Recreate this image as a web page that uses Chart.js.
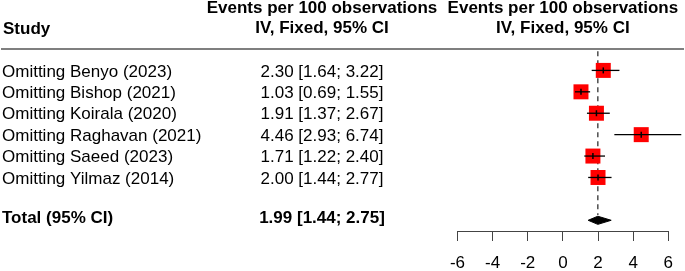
<!DOCTYPE html>
<html>
<head>
<meta charset="utf-8">
<script src="https://cdn.jsdelivr.net/npm/chart.js@4/dist/chart.umd.min.js"></script>
<style>
  html, body { margin: 0; padding: 0; background: #fff; }
  #wrap { width: 685px; height: 271px; }
</style>
</head>
<body>
<div id="wrap"><canvas id="forest" width="685" height="271"></canvas></div>
<script>
const studies = [
  'Omitting Benyo (2023)',
  'Omitting Bishop (2021)',
  'Omitting Koirala (2020)',
  'Omitting Raghavan (2021)',
  'Omitting Saeed (2023)',
  'Omitting Yilmaz (2014)',
];
const estimates = [2.30, 1.03, 1.91, 4.46, 1.71, 2.00];
const lowerCI   = [1.64, 0.69, 1.37, 2.93, 1.22, 1.44];
const upperCI   = [3.22, 1.55, 2.67, 6.74, 2.40, 2.77];

const totalLabel = 'Total (95% CI)';
const totalEst   = 1.99;
const totalLower = 1.44;
const totalUpper = 2.75;

const xTicks = [-6, -4, -2, 0, 2, 4, 6];

const headerLeft  = ['Events per 100 observations', 'IV, Fixed, 95% CI'];
const headerRight = ['Events per 100 observations', 'IV, Fixed, 95% CI'];

const FONT = '"Liberation Sans", Arial, Helvetica, sans-serif';
const TOTAL_ROW = studies.length + 2;

function fmt(est, lo, hi) {
  return `${est.toFixed(2)} [${lo.toFixed(2)}; ${hi.toFixed(2)}]`;
}

// one short line per study for the CI
const ciSets = studies.map((s, i) => ({
  label: 'ci ' + s,
  data: [{ x: lowerCI[i], y: i + 1 }, { x: upperCI[i], y: i + 1 }],
  showLine: true,
  borderColor: '#000',
  borderWidth: 1.3,
  pointRadius: 0,
  clip: false,
  order: 2,
}));

const textColumns = {
  id: 'textColumns',
  afterDraw(chart) {
    const { ctx } = chart;
    const y = chart.scales.y;
    const x = chart.scales.x;
    ctx.save();

    // header
    ctx.fillStyle = '#000';
    ctx.textBaseline = 'middle';
    ctx.font = `bold 17px ${FONT}`;
    ctx.textAlign = 'left';
    ctx.fillText('Study', 3, 29);
    ctx.textAlign = 'center';
    ctx.fillText(headerLeft[0], 322, 8);
    ctx.fillText(headerLeft[1], 322, 28.5);
    ctx.fillText(headerRight[0], x.getPixelForValue(0), 8);
    ctx.fillText(headerRight[1], x.getPixelForValue(0), 28.5);

    // rule under header
    ctx.strokeStyle = '#7f7f7f';
    ctx.lineWidth = 2;
    ctx.beginPath();
    ctx.moveTo(1, 49);
    ctx.lineTo(684, 49);
    ctx.stroke();

    // study rows
    ctx.font = `17px ${FONT}`;
    studies.forEach((s, i) => {
      const py = y.getPixelForValue(i + 1) + 1.5;
      ctx.textAlign = 'left';
      ctx.fillText(s, 2, py);
      ctx.textAlign = 'center';
      ctx.fillText(fmt(estimates[i], lowerCI[i], upperCI[i]), 322, py);
    });

    // total row
    ctx.font = `bold 17px ${FONT}`;
    const ty = y.getPixelForValue(TOTAL_ROW) - 1.5;
    ctx.textAlign = 'left';
    ctx.fillText(totalLabel, 2, ty);
    ctx.textAlign = 'center';
    ctx.fillText(fmt(totalEst, totalLower, totalUpper), 322, ty);

    ctx.restore();
  },
};

new Chart(document.getElementById('forest'), {
  type: 'scatter',
  data: {
    datasets: [
      {
        label: 'squares',
        data: estimates.map((v, i) => ({ x: v, y: i + 1 })),
        pointStyle: 'rect',
        pointRadius: 10.6,
        backgroundColor: '#ff0000',
        borderWidth: 0,
        clip: false,
        order: 3,
      },
      ...ciSets,
      {
        label: 'est ticks',
        data: estimates.map((v, i) => ({ x: v, y: i + 1 })),
        pointStyle: 'line',
        rotation: 90,
        pointRadius: 3,
        borderColor: '#000',
        borderWidth: 1.5,
        clip: false,
        order: 1,
      },
      {
        label: 'pooled line',
        data: [{ x: totalEst, y: 0.1 }, { x: totalEst, y: 7.75 }],
        showLine: true,
        borderColor: '#333',
        borderWidth: 1.3,
        borderDash: [5, 4],
        pointRadius: 0,
        clip: false,
        order: 4,
      },
      {
        label: 'diamond',
        data: [
          { x: totalLower, y: TOTAL_ROW },
          { x: totalEst, y: TOTAL_ROW - 0.19 },
          { x: totalUpper, y: TOTAL_ROW },
          { x: totalEst, y: TOTAL_ROW + 0.19 },
          { x: totalLower, y: TOTAL_ROW },
        ],
        showLine: true,
        fill: 'shape',
        backgroundColor: '#000',
        borderColor: '#000',
        borderWidth: 1,
        pointRadius: 0,
        tension: 0,
        clip: false,
        order: 1,
      },
    ],
  },
  options: {
    responsive: false,
    devicePixelRatio: 1,
    animation: false,
    layout: { padding: { left: 457.5, right: 14.5, top: 49, bottom: 0 } },
    plugins: {
      legend: { display: false },
      tooltip: { enabled: false },
    },
    scales: {
      x: {
        type: 'linear',
        min: -6,
        max: 6,
        afterBuildTicks: axis => { axis.ticks = xTicks.map(v => ({ value: v })); },
        afterFit: axis => { axis.height = 40; },
        ticks: {
          color: '#000',
          padding: 12,
          font: { family: FONT, size: 17 },
        },
        grid: {
          drawOnChartArea: false,
          drawTicks: true,
          tickLength: 10,
          color: '#444',
          lineWidth: 1,
        },
        border: { display: true, color: '#444', width: 1 },
      },
      y: {
        type: 'linear',
        display: false,
        reverse: true,
        min: 0,
        max: 8.5,
      },
    },
  },
  plugins: [textColumns],
});
</script>
</body>
</html>
